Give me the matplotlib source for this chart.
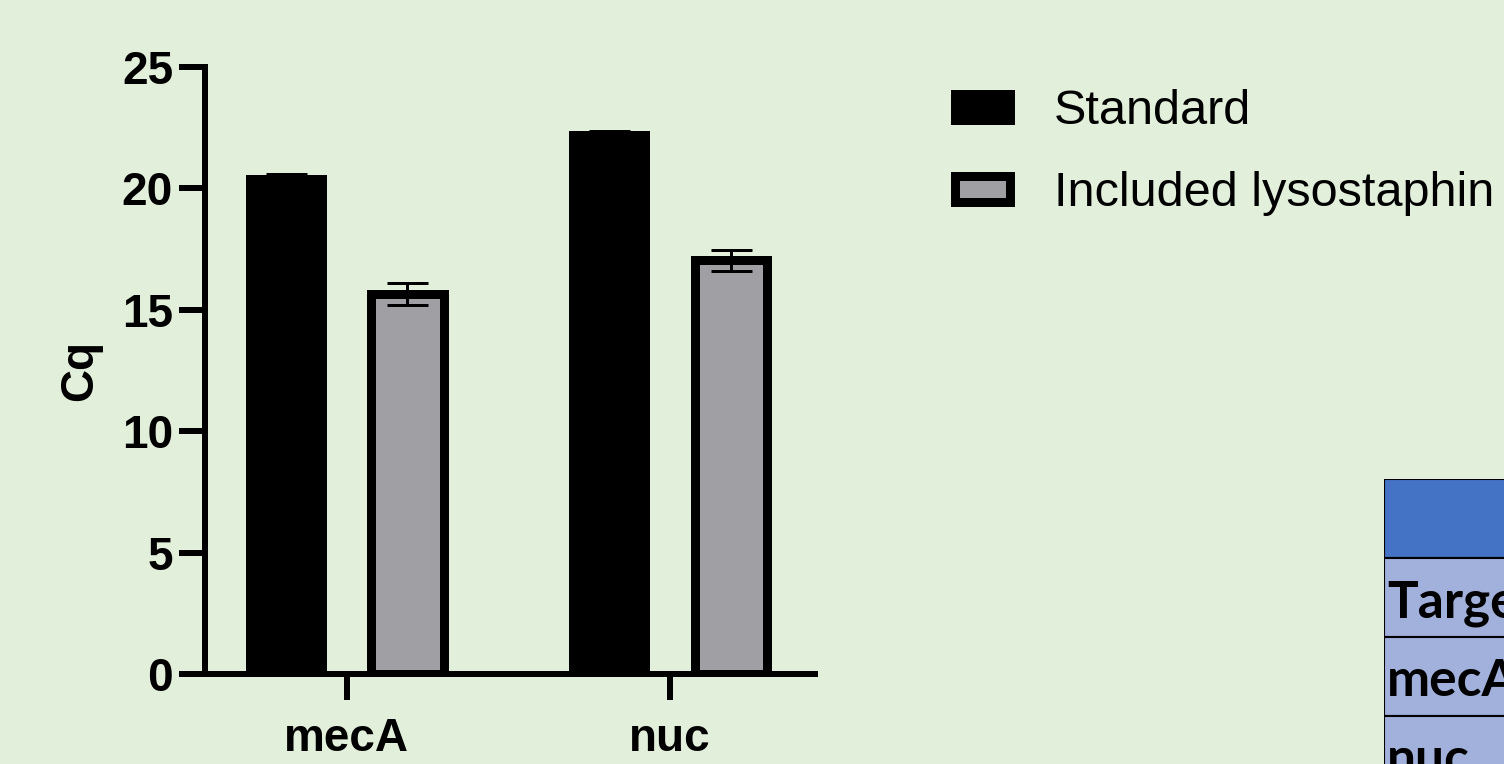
import numpy as np
import matplotlib.pyplot as plt
from matplotlib.patches import Rectangle

plt.rcParams['font.family'] = ['Liberation Sans', 'DejaVu Sans']

# Cq values per target gene (mean and SEM)
genes = ["mecA", "nuc"]
standard = [20.39, 22.19]
standard_err = [0.20, 0.19]
lysostaphin = [15.64, 17.04]
lysostaphin_err = [0.46, 0.44]
series_labels = ["Standard", "Included lysostaphin"]
yticks = [0, 5, 10, 15, 20, 25]

# rows of the summary table
table_rows = ["Target", "mecA", "nuc"]

bg = "#E2EFDA"
px = 72 / 100  # one pixel in points at dpi=100

fig = plt.figure(figsize=(15.04, 7.64), dpi=100, facecolor=bg)
ax = fig.add_axes([205 / 1504, 1 - 674 / 764, 610 / 1504, 607 / 764])
ax.set_facecolor(bg)

x = np.arange(len(genes))
w = 0.223
off = 0.188
ax.bar(x - off, standard, w, color="black", edgecolor="black",
       linewidth=9 * px, label=series_labels[0], zorder=2)
ax.bar(x + off, lysostaphin, w, color="#A09FA4", edgecolor="black",
       linewidth=9 * px, label=series_labels[1], zorder=2)
ax.errorbar(x - off, standard, yerr=standard_err, fmt="none", ecolor="black",
            elinewidth=3 * px, capsize=20.5 * px, capthick=3 * px, zorder=3)
ax.errorbar(x + off, lysostaphin, yerr=lysostaphin_err, fmt="none", ecolor="black",
            elinewidth=3 * px, capsize=20.5 * px, capthick=3 * px, zorder=3)

ax.set_xlim(-0.438, 1.448)
ax.set_ylim(0, 25)
ax.set_yticks(yticks)
ax.set_xticks(x)
ax.set_xticklabels(genes)
for s in ["top", "right"]:
    ax.spines[s].set_visible(False)
for s in ["left", "bottom"]:
    ax.spines[s].set_linewidth(6 * px)
ax.tick_params(direction="out", length=19, width=6 * px, labelsize=33, pad=4)
ax.tick_params(axis="x", pad=12)
for lab in ax.get_xticklabels() + ax.get_yticklabels():
    lab.set_fontweight("bold")
ax.set_ylabel("Cq", fontsize=33, fontweight="bold", labelpad=14)

leg = ax.legend(loc="upper left", bbox_to_anchor=(955 / 1504, 1 - 89 / 764),
                bbox_transform=fig.transFigure, frameon=False, fontsize=35,
                borderpad=0, borderaxespad=0, handlelength=1.14, handleheight=0.45,
                handletextpad=0.9, labelspacing=0.76)

# partial table in the lower right corner
tab = fig.add_axes([1384 / 1504, 1 - 795 / 764, 0.2, 316 / 764])
tab.set_xlim(0, 1)
tab.set_ylim(0, 4)
tab.axis("off")
tab.add_patch(Rectangle((0, 3), 1, 1, facecolor="#4472C4", edgecolor="black", lw=1.5))
for i, name in enumerate(table_rows):
    r = 2 - i
    tab.add_patch(Rectangle((0, r), 1, 1, facecolor="#A1B1DC", edgecolor="black", lw=1.5))
    tab.text(0.01, r + 0.25, name, fontsize=37, fontweight="bold",
             family=["Lato", "DejaVu Sans"], va="baseline", ha="left")

fig.savefig("out.png", dpi=100, facecolor=bg)
